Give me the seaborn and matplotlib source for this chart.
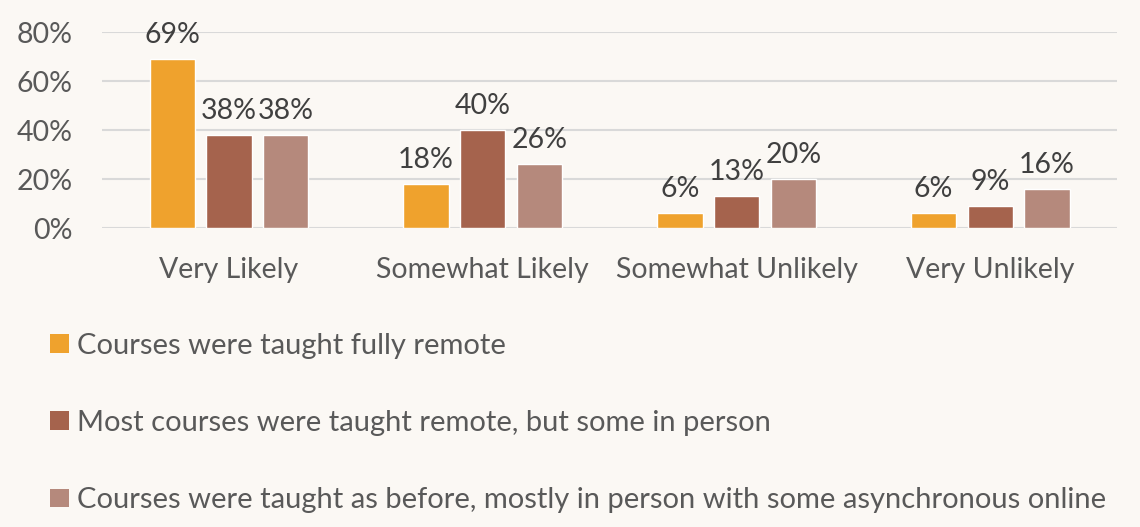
import pandas as pd
import matplotlib.pyplot as plt
import seaborn as sns
from matplotlib.patches import Patch

categories = ['Very Likely', 'Somewhat Likely', 'Somewhat Unlikely', 'Very Unlikely']
series = [
    'Courses were taught fully remote',
    'Most courses were taught remote, but some in person',
    'Courses were taught as before, mostly in person with some asynchronous online',
]
fully_remote = [0.69, 0.18, 0.06, 0.06]
mostly_remote = [0.38, 0.40, 0.13, 0.09]
as_before = [0.38, 0.26, 0.20, 0.16]
colors = ['#EFA22D', '#A5634D', '#B5897C']

rows = []
for name, vals in zip(series, [fully_remote, mostly_remote, as_before]):
    for cat, v in zip(categories, vals):
        rows.append({'Category': cat, 'Series': name, 'Value': v})
df = pd.DataFrame(rows)

sns.set_style('white')
plt.rcParams['font.family'] = ['Lato', 'DejaVu Sans']

fs = 20.5
bg = '#FBF8F4'
fig = plt.figure(figsize=(11.4, 5.27), dpi=100, facecolor=bg)
ax = fig.add_axes([0.0895, 0.567, 0.8905, 0.372])
ax.set_facecolor(bg)

sns.barplot(data=df, x='Category', y='Value', hue='Series', palette=colors,
            saturation=1, width=0.67, gap=0.2, ax=ax, legend=False, errorbar=None)

for c in ax.containers:
    ax.bar_label(c, labels=[f'{v * 100:.0f}%' for v in c.datavalues],
                 padding=8, fontsize=fs, color='#404040')

ax.set_ylim(0, 0.8)
ax.set_xlim(-0.5, 3.5)
ax.set_yticks([0, 0.2, 0.4, 0.6, 0.8])
ax.set_yticklabels(['0%', '20%', '40%', '60%', '80%'])
ax.yaxis.grid(True, color='#D9D9D9', linewidth=1.5)
ax.set_axisbelow(True)
for s in ax.spines.values():
    s.set_visible(False)
ax.tick_params(axis='y', labelsize=fs, labelcolor='#595959', length=0, pad=21)
ax.tick_params(axis='x', labelsize=fs, labelcolor='#595959', length=0, pad=21)
ax.set_xlabel('')
ax.set_ylabel('')

handles = [Patch(facecolor=c, edgecolor='none') for c in colors]
fig.legend(handles, series, loc='upper left', bbox_to_anchor=(0.034, 0.39),
           frameon=False, fontsize=21, labelcolor='#595959',
           handlelength=0.62, handleheight=0.62, handletextpad=0.3,
           labelspacing=1.75, borderaxespad=0)

fig.savefig('out.png', dpi=100, facecolor=bg)
